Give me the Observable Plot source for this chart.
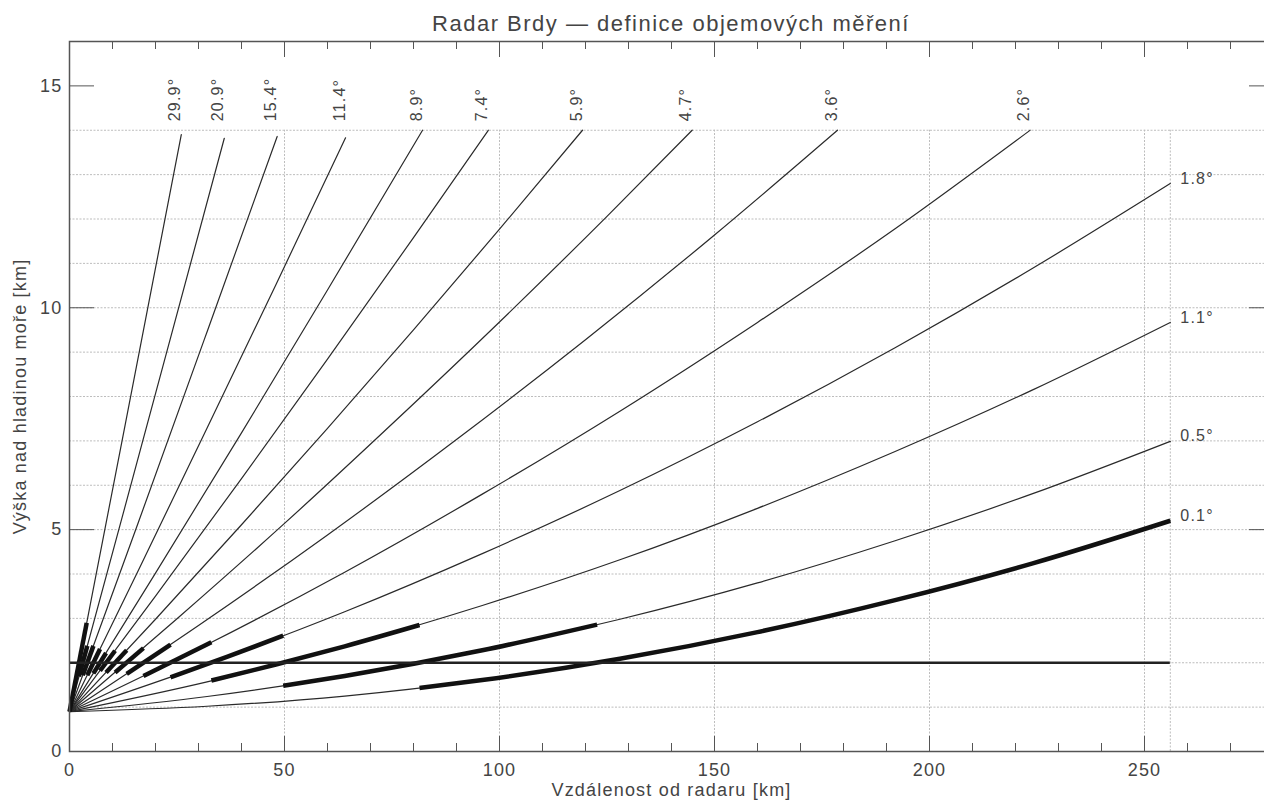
<!DOCTYPE html>
<html>
<head>
<meta charset="utf-8">
<script src="https://cdn.jsdelivr.net/npm/d3@7"></script>
<script src="https://cdn.jsdelivr.net/npm/@observablehq/plot@0.6"></script>
<style>
html, body { margin: 0; padding: 0; overflow: hidden; background: #fff; }
#wrap { position: relative; width: 1280px; height: 800px; }
#title { position: absolute; left: 0; top: 0; width: 1342px; text-align: center; z-index: 2;
  font: 22px "Liberation Sans", Arial, sans-serif; letter-spacing: 1.5px; color: #444;
  line-height: 22px; padding-top: 13px; }
#chart { position: absolute; left: 0; top: 31px; z-index: 1; }
#chart svg text { letter-spacing: 1.2px; }
</style>
</head>
<body>
<div id="wrap">
  <div id="title">Radar Brdy — definice objemových měření</div>
  <div id="chart"></div>
</div>
<script>
// ---- axis / frame values ----
const xMax = 280;
const yMax = 16;
const gridTop = 14;          // grid and beams drawn up to 14 km
const maxRange = 256;        // maximal range of the radar [km]
const cappiHeight = 2;       // horizontal reference level [km]
const xGrid = [50, 100, 150, 200, 250, 256];
const yGrid = [1, 2, 3, 4, 5, 6, 7, 8, 9, 10, 11, 12, 13, 14];
const xTickLabels = [0, 50, 100, 150, 200, 250];
const xMajorTicks = [50, 100, 150, 200, 250];
const xMinorTicks = [10, 20, 30, 40, 60, 70, 80, 90, 110, 120, 130, 140, 160, 170, 180, 190, 210, 220, 230, 240, 260, 270];
const yTickLabels = [0, 5, 10, 15];

// ---- beam centre heights: [distance km, height km] ----
const beam0_1  = [[0, 0.90], [32, 1.02], [64, 1.25], [96, 1.61], [128, 2.09], [160, 2.69], [192, 3.41], [224, 4.24], [256, 5.20]];
const beam0_5  = [[0, 0.90], [32, 1.24], [64, 1.70], [96, 2.28], [128, 2.98], [160, 3.80], [192, 4.75], [224, 5.81], [256, 6.99]];
const beam1_1  = [[0, 0.90], [32, 1.57], [64, 2.37], [96, 3.29], [128, 4.32], [160, 5.48], [192, 6.76], [224, 8.15], [256, 9.67]];
const beam1_8  = [[0, 0.90], [32, 1.97], [64, 3.15], [96, 4.46], [128, 5.88], [160, 7.43], [192, 9.10], [224, 10.89], [256, 12.80]];
const beam2_6  = [[0, 0.90], [32, 2.41], [64, 4.04], [96, 5.80], [128, 7.67], [160, 9.67], [192, 11.78], [223.4, 14.00]];
const beam3_6  = [[0, 0.90], [30, 2.84], [60, 4.88], [90, 7.03], [120, 9.28], [150, 11.64], [178.6, 14.00]];
const beam4_7  = [[0, 0.90], [25, 2.99], [50, 5.14], [75, 7.38], [100, 9.68], [125, 12.06], [144.8, 14.00]];
const beam5_9  = [[0, 0.90], [20, 2.98], [40, 5.11], [60, 7.28], [80, 9.50], [100, 11.77], [119.3, 14.00]];
const beam7_4  = [[0, 0.90], [20, 3.50], [40, 6.15], [60, 8.84], [80, 11.58], [97.4, 14.00]];
const beam8_9  = [[0, 0.90], [20, 4.02], [40, 7.18], [60, 10.40], [82.1, 14.00]];
const beam11_4 = [[0, 0.90], [16, 4.08], [32, 7.29], [48, 10.52], [64.2, 13.83]];
const beam15_4 = [[0, 0.90], [16, 5.16], [32, 9.46], [48.3, 13.86]];
const beam20_9 = [[0, 0.90], [12, 5.19], [24, 9.50], [36, 13.82]];
const beam29_9 = [[0, 0.90], [13, 7.39], [26, 13.90]];

// ---- parts of each beam used for the measurement (thick) ----
const used0_1  = [[81.4, 1.43], [96, 1.61], [128, 2.09], [160, 2.69], [192, 3.41], [224, 4.24], [256, 5.20]];
const used0_5  = [[49.7, 1.48], [64, 1.70], [96, 2.28], [122.7, 2.86]];
const used1_1  = [[33.0, 1.60], [48, 1.96], [64, 2.37], [81.4, 2.85]];
const used1_8  = [[23.5, 1.67], [36.6, 2.13], [49.7, 2.61]];
const used2_6  = [[17.2, 1.70], [33.0, 2.46]];
const used3_6  = [[13.3, 1.75], [23.5, 2.41]];
const used4_7  = [[10.6, 1.78], [17.2, 2.33]];
const used5_9  = [[8.5, 1.78], [13.3, 2.28]];
const used7_4  = [[7.1, 1.82], [10.6, 2.27]];
const used8_9  = [[5.56, 1.76], [8.5, 2.22]];
const used11_4 = [[4.14, 1.72], [7.1, 2.31]];
const used15_4 = [[3.08, 1.72], [5.56, 2.38]];
const used20_9 = [[2.2, 1.69], [4.14, 2.38]];
const used29_9 = [[0, 0.90], [4.0, 2.90]];

const elevations = ["0.1", "0.5", "1.1", "1.8", "2.6", "3.6", "4.7", "5.9", "7.4", "8.9", "11.4", "15.4", "20.9", "29.9"];
const beams = [beam0_1, beam0_5, beam1_1, beam1_8, beam2_6, beam3_6, beam4_7, beam5_9, beam7_4, beam8_9, beam11_4, beam15_4, beam20_9, beam29_9];
const used  = [used0_1, used0_5, used1_1, used1_8, used2_6, used3_6, used4_7, used5_9, used7_4, used8_9, used11_4, used15_4, used20_9, used29_9];
const rightLabelled = ["0.1", "0.5", "1.1", "1.8"];

// ---- tables for Plot ----
const beamRows = elevations.flatMap((e, i) => beams[i].map(([x, y]) => ({elev: e, x, y})));
const usedRows = elevations.flatMap((e, i) => used[i].map(([x, y]) => ({elev: e, x, y})));
const ends = elevations.map((e, i) => {
  const p = beams[i][beams[i].length - 1];
  return {elev: e, x: p[0], y: p[1], label: e + "°"};
});
const topLabels = ends.filter(d => !rightLabelled.includes(d.elev)).map(d => ({...d, y: gridTop}));
const rightLabels = ends.filter(d => rightLabelled.includes(d.elev));

const axisColor = "#555";
const textColor = "#444";

const chart = Plot.plot({
  width: 1280,
  height: 769,
  marginLeft: 69,
  marginRight: 7,
  marginTop: 10,
  marginBottom: 49,
  x: {domain: [0, xMax]},
  y: {domain: [0, yMax]},
  style: {fontFamily: "'Liberation Sans', Arial, sans-serif", fontSize: "18px", color: textColor, background: "transparent", overflow: "visible"},
  marks: [
    // grid
    Plot.ruleY(yGrid, {stroke: "#bdbdbd", strokeWidth: 1, strokeDasharray: "2,1.5"}),
    Plot.ruleX(xGrid, {y1: 0, y2: gridTop, stroke: "#bdbdbd", strokeWidth: 1, strokeDasharray: "2,1.5"}),
    // beams
    Plot.line(beamRows, {x: "x", y: "y", z: "elev", curve: "monotone-x", stroke: "#2a2a2a", strokeWidth: 1.2}),
    Plot.line(usedRows, {x: "x", y: "y", z: "elev", curve: "monotone-x", stroke: "#111", strokeWidth: 4.5, strokeLinecap: "butt"}),
    // 2 km level
    Plot.ruleY([cappiHeight], {x1: 0, x2: maxRange, stroke: "#222", strokeWidth: 2.5}),
    // labels
    Plot.text(topLabels, {x: "x", y: "y", text: "label", rotate: -90, textAnchor: "start", dx: -6, dy: -9, fontSize: 16, fill: textColor}),
    Plot.text(rightLabels, {x: "x", y: "y", text: "label", textAnchor: "start", dx: 10, dy: -5, fontSize: 16, fill: textColor}),
    // frame
    Plot.frame({stroke: axisColor, strokeWidth: 1.5}),
    // bottom axis
    Plot.axisX(xTickLabels, {anchor: "bottom", tickSize: 0, tickPadding: 12, fontSize: 18, fill: textColor,
      label: "Vzdálenost od radaru [km]", labelAnchor: "center", labelOffset: 44, labelArrow: "none"}),
    Plot.axisX(xMajorTicks, {anchor: "bottom", tickSize: -15, stroke: axisColor, fill: "none", label: null}),
    Plot.axisX(xMinorTicks, {anchor: "bottom", tickSize: -8, stroke: axisColor, fill: "none", label: null}),
    // top axis
    Plot.axisX(xMajorTicks, {anchor: "top", tickSize: -15, stroke: axisColor, fill: "none", label: null}),
    Plot.axisX(xMinorTicks, {anchor: "top", tickSize: -7, stroke: axisColor, fill: "none", label: null}),
    // left axis
    Plot.axisY(yTickLabels, {anchor: "left", tickSize: 0, tickPadding: 7, fontSize: 18, fill: textColor,
      label: "Výška nad hladinou moře [km]", labelAnchor: "center", labelOffset: 56, labelArrow: "none"}),
    Plot.axisY(yTickLabels, {anchor: "left", tickSize: -25, stroke: axisColor, fill: "none", label: null}),
    // right axis
    Plot.axisY(yTickLabels, {anchor: "right", tickSize: -25, stroke: axisColor, fill: "none", label: null})
  ]
});
document.getElementById("chart").appendChild(chart);
</script>
</body>
</html>
